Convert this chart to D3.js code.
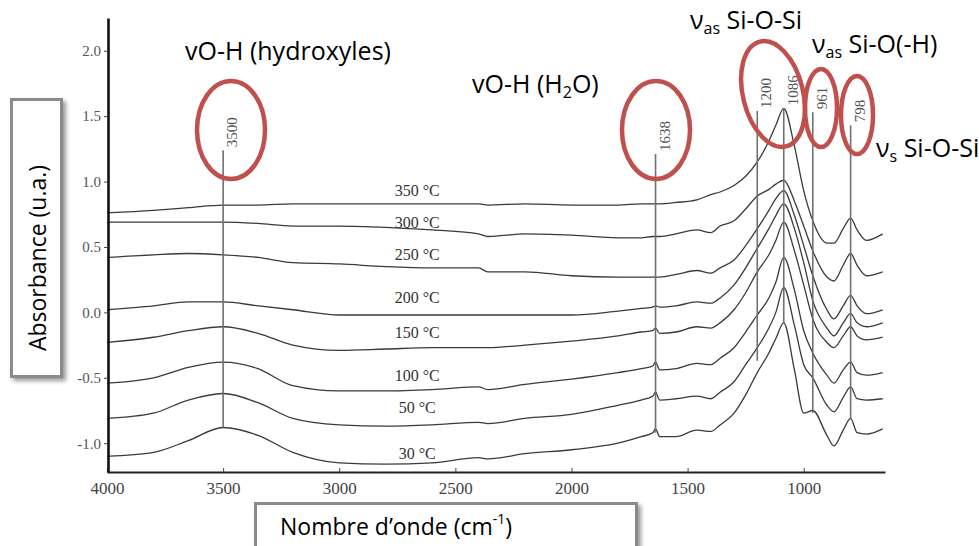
<!DOCTYPE html>
<html><head><meta charset="utf-8">
<script src="https://cdn.jsdelivr.net/npm/d3@7"></script>
<style>body{margin:0;background:#fff}svg{display:block}</style>
</head><body>
<svg id="chart" width="979" height="546"></svg>
<script>
// ---- data ----
const wavenumbers = [4000,3800,3650,3500,3350,3200,3000,2800,2600,2400,2360,2200,2000,1800,1700,1650,1638,1620,1550,1460,1400,1360,1300,1250,1200,1150,1120,1086,1040,1000,961,900,870,830,798,770,730,660];

const abs350 = [0.76,0.78,0.80,0.82,0.82,0.83,0.83,0.83,0.83,0.83,0.82,0.83,0.82,0.82,0.83,0.83,0.83,0.83,0.84,0.86,0.90,0.92,0.97,1.04,1.15,1.31,1.43,1.56,1.27,0.93,0.70,0.53,0.53,0.64,0.72,0.63,0.55,0.60];
const abs300 = [0.69,0.69,0.69,0.69,0.68,0.66,0.66,0.65,0.63,0.60,0.58,0.60,0.59,0.57,0.57,0.58,0.58,0.58,0.60,0.63,0.61,0.66,0.70,0.79,0.89,0.94,0.98,1.01,0.85,0.66,0.47,0.27,0.24,0.36,0.45,0.36,0.28,0.31];
const abs250 = [0.42,0.44,0.45,0.44,0.42,0.38,0.37,0.35,0.34,0.34,0.31,0.31,0.28,0.27,0.27,0.27,0.27,0.27,0.29,0.32,0.30,0.34,0.40,0.51,0.64,0.78,0.87,0.93,0.74,0.51,0.28,0.02,-0.05,0.05,0.13,0.05,-0.01,0.02];
const abs200 = [0.02,0.05,0.08,0.08,0.05,0.02,-0.02,-0.02,-0.02,-0.02,-0.02,-0.02,-0.02,0.01,0.03,0.04,0.05,0.04,0.05,0.08,0.07,0.11,0.21,0.34,0.49,0.64,0.74,0.83,0.64,0.38,0.09,-0.12,-0.18,-0.08,-0.01,-0.08,-0.11,-0.08];
const abs150 = [-0.23,-0.19,-0.14,-0.11,-0.16,-0.25,-0.29,-0.28,-0.27,-0.27,-0.27,-0.25,-0.22,-0.18,-0.15,-0.14,-0.12,-0.16,-0.15,-0.11,-0.12,-0.08,0.02,0.15,0.31,0.44,0.55,0.69,0.47,0.21,-0.05,-0.23,-0.27,-0.18,-0.11,-0.18,-0.21,-0.19];
const abs100 = [-0.54,-0.50,-0.42,-0.38,-0.43,-0.56,-0.60,-0.60,-0.59,-0.57,-0.59,-0.55,-0.51,-0.46,-0.43,-0.41,-0.38,-0.44,-0.43,-0.39,-0.40,-0.35,-0.27,-0.15,-0.02,0.11,0.23,0.42,0.17,-0.14,-0.31,-0.48,-0.54,-0.44,-0.38,-0.46,-0.48,-0.46];
const abs50  = [-0.81,-0.77,-0.67,-0.62,-0.69,-0.81,-0.86,-0.87,-0.86,-0.84,-0.85,-0.81,-0.78,-0.71,-0.67,-0.64,-0.61,-0.67,-0.66,-0.64,-0.66,-0.61,-0.53,-0.40,-0.27,-0.12,0.00,0.19,-0.10,-0.40,-0.50,-0.71,-0.76,-0.65,-0.57,-0.66,-0.67,-0.66];
const abs30  = [-1.10,-1.07,-0.98,-0.88,-0.94,-1.07,-1.15,-1.16,-1.15,-1.11,-1.12,-1.08,-1.05,-1.00,-0.95,-0.92,-0.89,-0.95,-0.95,-0.90,-0.91,-0.86,-0.77,-0.63,-0.46,-0.31,-0.20,-0.08,-0.44,-0.77,-0.75,-0.94,-1.02,-0.90,-0.81,-0.92,-0.93,-0.89];

const tempLabels = ["350 °C","300 °C","250 °C","200 °C","150 °C","100 °C","50 °C","30 °C"];
const tempLabelAbs = [0.93,0.69,0.44,0.11,-0.15,-0.48,-0.73,-1.08];
const tempLabelWavenumber = 2664;

const peakPositions = [3500,1638,1200,1086,961,798];
const peakLabels = ["3500","1638","1200","1086","961","798"];
const peakTop = [1.24,1.21,1.54,1.56,1.53,1.43];
const peakBottom = [-0.88,-0.92,-0.37,-0.08,-0.77,-0.81];

const xTicks = [4000,3500,3000,2500,2000,1500,1000];
const yTicks = [-1.0,-0.5,0.0,0.5,1.0,1.5,2.0];

// ---- drawing ----
const series = [abs350,abs300,abs250,abs200,abs150,abs100,abs50,abs30];
const svg = d3.select("#chart");
const x = d3.scaleLinear().domain([4000,650]).range([107,885]);
const y = d3.scaleLinear().domain([-1.22,2.25]).range([472,18]);

const defs = svg.append("defs");
const f = defs.append("filter").attr("id","sh").attr("x","-20%").attr("y","-20%").attr("width","150%").attr("height","150%");
f.append("feDropShadow").attr("dx",3).attr("dy",3).attr("stdDeviation",2.2).attr("flood-color","#777").attr("flood-opacity",0.75);

// curves
const line = d3.line().x((d,i)=>x(wavenumbers[i])).y(d=>y(d)).curve(d3.curveMonotoneX);
svg.append("g").selectAll("path").data(series).join("path")
  .attr("d",line).attr("fill","none").attr("stroke","#3a3a3a").attr("stroke-width",1.3);

// peak lines
svg.append("g").selectAll("line").data(peakPositions).join("line")
  .attr("x1",d=>x(d)).attr("x2",d=>x(d))
  .attr("y1",(d,i)=>y(peakTop[i])).attr("y2",(d,i)=>y(peakBottom[i]))
  .attr("stroke","#707070").attr("stroke-width",1.6);
svg.append("g").selectAll("text").data(peakPositions).join("text")
  .attr("transform",(d,i)=>`translate(${x(d)+9},${y(peakTop[i])-3}) rotate(-90)`)
  .attr("dominant-baseline","central")
  .attr("font-family","Liberation Serif").attr("font-size",15).attr("fill","#555")
  .text((d,i)=>peakLabels[i]);

// temperature labels
svg.append("g").selectAll("text").data(tempLabels).join("text")
  .attr("x",x(tempLabelWavenumber)).attr("y",(d,i)=>y(tempLabelAbs[i]))
  .attr("text-anchor","middle").attr("dominant-baseline","central")
  .attr("font-family","Liberation Serif").attr("font-size",16).attr("fill","#333")
  .text(d=>d);

// axes
const gx = svg.append("g").attr("transform","translate(0,472)")
  .call(d3.axisBottom(x).tickValues(xTicks).tickSizeInner(-4).tickSizeOuter(0).tickPadding(10).tickFormat(d=>String(d)));
gx.select(".domain").attr("stroke","#222").attr("stroke-width",2.2);
gx.selectAll(".tick line").attr("stroke","#444");
gx.selectAll("text").attr("font-family","Liberation Serif").attr("font-size",17).attr("fill","#444");

const gy = svg.append("g").attr("transform","translate(108,0)")
  .call(d3.axisLeft(y).tickValues(yTicks).tickSizeInner(4).tickSizeOuter(0).tickPadding(3).tickFormat(d=>d.toFixed(1)));
gy.select(".domain").attr("stroke","#111").attr("stroke-width",2.6);
gy.selectAll(".tick line").attr("stroke","#444");
gy.selectAll("text").attr("font-family","Liberation Serif").attr("font-size",15).attr("fill","#555");

// red ellipses
const ell = svg.append("g").attr("fill","none").attr("stroke","#C0504D").attr("stroke-width",4.5);
ell.append("ellipse").attr("cx",231).attr("cy",130).attr("rx",34).attr("ry",49);
ell.append("ellipse").attr("cx",656).attr("cy",130).attr("rx",34).attr("ry",49);
ell.append("ellipse").attr("transform","translate(773,94) rotate(-14)").attr("rx",30).attr("ry",54);
ell.append("ellipse").attr("cx",821).attr("cy",108).attr("rx",16).attr("ry",39);
ell.append("ellipse").attr("cx",857).attr("cy",115).attr("rx",16).attr("ry",39);

// annotations
const ann = svg.append("g").attr("font-family","Open Sans").attr("font-size",25).attr("fill","#000");
ann.append("text").attr("x",185).attr("y",60).text("vO-H (hydroxyles)");
const t2 = ann.append("text").attr("x",472).attr("y",93);
t2.append("tspan").text("vO-H (H");
t2.append("tspan").attr("font-size",16).attr("dy",5).text("2");
t2.append("tspan").attr("dy",-5).text("O)");
function nu(xp,yp,sub,rest){
  const t = ann.append("text").attr("x",xp).attr("y",yp);
  t.append("tspan").text("ν");
  t.append("tspan").attr("font-size",16).attr("dy",5).text(sub);
  t.append("tspan").attr("dy",-5).text(" "+rest);
}
nu(690,29,"as","Si-O-Si");
nu(812,53,"as","Si-O(-H)");
nu(876,157,"s","Si-O-Si");

// axis title boxes
svg.append("rect").attr("x",11.5).attr("y",99.5).attr("width",50).attr("height",277)
  .attr("fill","#fff").attr("stroke","#8a8a8a").attr("stroke-width",3).attr("filter","url(#sh)");
svg.append("text").attr("transform","translate(37,258) rotate(-90)")
  .attr("text-anchor","middle").attr("dominant-baseline","central")
  .attr("font-family","Open Sans").attr("font-size",23).attr("fill","#000").text("Absorbance (u.a.)");

svg.append("rect").attr("x",255.5).attr("y",503.5).attr("width",381).attr("height",60)
  .attr("fill","#fff").attr("stroke","#8a8a8a").attr("stroke-width",3).attr("filter","url(#sh)");
const tx = svg.append("text").attr("x",280).attr("y",535)
  .attr("font-family","Open Sans").attr("font-size",23).attr("fill","#000");
tx.append("tspan").text("Nombre d’onde (cm");
tx.append("tspan").attr("font-size",14).attr("dy",-11).text("-1");
tx.append("tspan").attr("dy",11).text(")");
</script>
</body></html>
